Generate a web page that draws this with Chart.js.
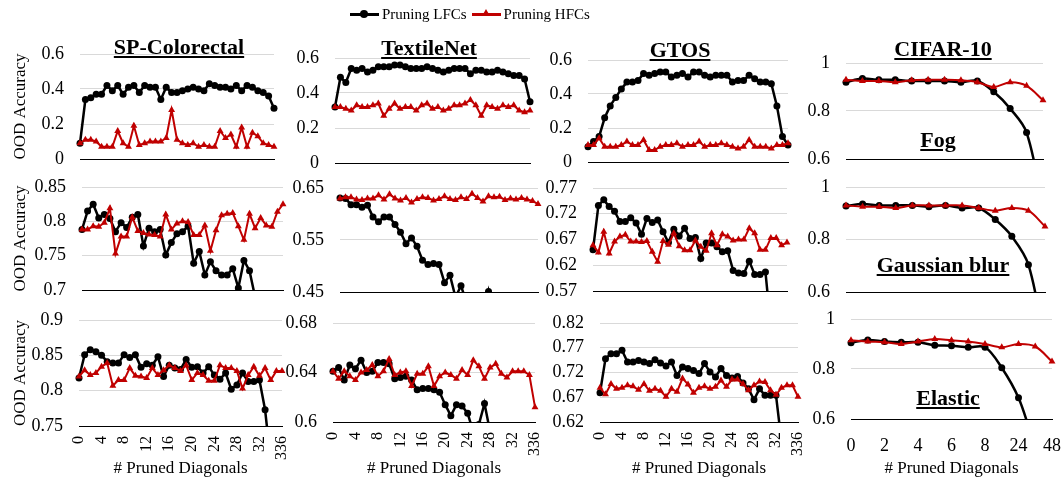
<!DOCTYPE html>
<html lang="en">
<head>
<meta charset="UTF-8" />
<title>OOD accuracy vs. pruned diagonals</title>
<script src="https://cdn.jsdelivr.net/npm/chart.js"></script>
<style>
  body { margin: 0; background: #fff; font-family: "Liberation Serif", "Times New Roman", serif; }
  #page { position: relative; width: 1063px; height: 478px; overflow: hidden; }
  #page canvas { position: absolute; }
  .title {
    position: absolute; font-weight: bold; font-size: 22px; line-height: 1;
    text-decoration: underline; transform: translate(-50%, -50%); white-space: nowrap; color: #000;
  }
  /* legend */
  .legend { position: absolute; top: 6px; left: 350px; display: flex; align-items: center; font-size: 15px; color: #000; }
  .legend .key { position: relative; display: inline-block; width: 29px; height: 2.5px; margin-right: 3px; }
  .legend .dot { position: absolute; left: 10px; top: -3px; width: 8px; height: 8px; border-radius: 50%; background: #000; }
  .legend .tri { position: absolute; left: 10px; top: -4px; width: 0; height: 0;
    border-left: 4px solid transparent; border-right: 4px solid transparent; border-bottom: 7px solid #c00000; }
  .legend .txt { margin-right: 5px; }
</style>
</head>
<body>
<div id="page">
  <div class="legend">
    <span class="key" style="background:#000"><span class="dot"></span></span><span class="txt">Pruning LFCs</span>
    <span class="key" style="background:#c00000"><span class="tri"></span></span><span class="txt">Pruning HFCs</span>
  </div>
  <div class="title" style="left:179px; top:47px">SP-Colorectal</div>
  <div class="title" style="left:429px; top:48px">TextileNet</div>
  <div class="title" style="left:680px; top:50px">GTOS</div>
  <div class="title" style="left:943px; top:49px">CIFAR-10</div>
  <div class="title" style="left:938px; top:140px">Fog</div>
  <div class="title" style="left:943px; top:265px">Gaussian blur</div>
  <div class="title" style="left:948px; top:398px">Elastic</div>
</div>
<script>
  // x categories
  const diagLabels = ["0", "1", "2", "3", "4", "5", "6", "7", "8", "9", "10", "11", "12", "13", "14", "15", "16", "17",
    "18", "19", "20", "21", "22", "23", "24", "25", "26", "27", "28", "29", "30", "31", "32", "33", "34", "35", "336"];
  const cifarLabels = ["0", "1", "2", "3", "4", "5", "6", "7", "8", "16", "24", "32", "48"];

  // y tick values
  const fogTicks = [0, 0.2, 0.4, 0.6];
  const cifarTicks = [0.6, 0.8, 1];
  const spBlurTicks = [0.7, 0.75, 0.8, 0.85];
  const textileBlurTicks = [0.45, 0.55, 0.65];
  const gtosBlurTicks = [0.57, 0.62, 0.67, 0.72, 0.77];
  const spElasticTicks = [0.75, 0.8, 0.85, 0.9];
  const textileElasticTicks = [0.6, 0.64, 0.68];
  const gtosElasticTicks = [0.62, 0.67, 0.72, 0.77, 0.82];

  // row 1
  const spFogLfc = [0.09, 0.34, 0.35, 0.37, 0.37, 0.42, 0.39, 0.42, 0.37, 0.41, 0.42, 0.38, 0.42, 0.41, 0.41, 0.34, 0.41, 0.38, 0.38,
    0.39, 0.40, 0.41, 0.40, 0.39, 0.43, 0.42, 0.41, 0.41, 0.40, 0.42, 0.39, 0.42, 0.41, 0.39, 0.38, 0.36, 0.29];
  const spFogHfc = [0.09, 0.11, 0.11, 0.10, 0.07, 0.07, 0.07, 0.16, 0.09, 0.07, 0.19, 0.08, 0.09, 0.10, 0.10, 0.10, 0.12, 0.28, 0.11,
    0.09, 0.08, 0.09, 0.07, 0.08, 0.07, 0.07, 0.16, 0.12, 0.14, 0.07, 0.18, 0.07, 0.15, 0.13, 0.09, 0.08, 0.07];
  const textileFogLfc = [0.32, 0.49, 0.46, 0.54, 0.53, 0.54, 0.52, 0.53, 0.55, 0.55, 0.55, 0.56, 0.56, 0.55, 0.54, 0.54, 0.54, 0.55, 0.54,
    0.53, 0.52, 0.53, 0.54, 0.54, 0.54, 0.51, 0.53, 0.53, 0.52, 0.52, 0.53, 0.52, 0.51, 0.50, 0.50, 0.48, 0.35];
  const textileFogHfc = [0.32, 0.32, 0.31, 0.30, 0.33, 0.32, 0.32, 0.33, 0.34, 0.27, 0.31, 0.34, 0.31, 0.32, 0.32, 0.30, 0.33, 0.34, 0.31,
    0.32, 0.30, 0.31, 0.33, 0.33, 0.34, 0.36, 0.33, 0.27, 0.33, 0.32, 0.31, 0.33, 0.32, 0.33, 0.30, 0.29, 0.30];
  const gtosFogLfc = [0.09, 0.12, 0.15, 0.26, 0.33, 0.38, 0.43, 0.47, 0.47, 0.48, 0.52, 0.51, 0.52, 0.53, 0.53, 0.50, 0.51, 0.52, 0.50,
    0.53, 0.53, 0.51, 0.50, 0.51, 0.51, 0.51, 0.47, 0.48, 0.48, 0.51, 0.49, 0.47, 0.47, 0.46, 0.33, 0.15, 0.10];
  const gtosFogHfc = [0.10, 0.10, 0.14, 0.09, 0.09, 0.09, 0.10, 0.12, 0.10, 0.10, 0.13, 0.07, 0.07, 0.09, 0.10, 0.10, 0.11, 0.09, 0.10,
    0.10, 0.12, 0.09, 0.10, 0.10, 0.11, 0.10, 0.09, 0.08, 0.09, 0.13, 0.09, 0.09, 0.09, 0.08, 0.10, 0.10, 0.11];
  const cifarFogLfc = [0.92, 0.935, 0.93, 0.93, 0.925, 0.925, 0.925, 0.92, 0.925, 0.88, 0.81, 0.71, 0.40];
  const cifarFogHfc = [0.93, 0.925, 0.925, 0.92, 0.928, 0.93, 0.93, 0.928, 0.92, 0.90, 0.92, 0.905, 0.845];

  // row 2
  const spBlurLfc = [0.788, 0.815, 0.825, 0.805, 0.81, 0.804, 0.785, 0.798, 0.791, 0.806, 0.81, 0.764, 0.79, 0.785, 0.788, 0.751, 0.769,
    0.782, 0.785, 0.793, 0.739, 0.756, 0.722, 0.741, 0.728, 0.722, 0.722, 0.731, 0.703, 0.743, 0.728, 0.69, 0.66, 0.62, 0.58, 0.55, 0.52];
  const spBlurHfc = [0.788, 0.788, 0.793, 0.792, 0.798, 0.819, 0.753, 0.778, 0.778, 0.806, 0.786, 0.783, 0.781, 0.78, 0.778, 0.81, 0.788,
    0.797, 0.8, 0.799, 0.78, 0.78, 0.794, 0.757, 0.787, 0.809, 0.811, 0.812, 0.793, 0.773, 0.811, 0.79, 0.805, 0.794, 0.792, 0.814, 0.825];
  const textileBlurLfc = [0.631, 0.63, 0.618, 0.618, 0.613, 0.617, 0.594, 0.585, 0.594, 0.594, 0.58, 0.565, 0.543, 0.554, 0.538, 0.511,
    0.503, 0.505, 0.503, 0.468, 0.482, 0.44, 0.462, 0.43, 0.42, 0.41, 0.40, 0.451, 0.40, 0.38, 0.36, 0.35, 0.34, 0.33, 0.32, 0.31, 0.30];
  const textileBlurHfc = [0.63, 0.632, 0.632, 0.628, 0.627, 0.63, 0.63, 0.636, 0.628, 0.638, 0.63, 0.626, 0.631, 0.622, 0.629, 0.632,
    0.631, 0.626, 0.629, 0.634, 0.629, 0.627, 0.632, 0.629, 0.639, 0.631, 0.624, 0.634, 0.632, 0.633, 0.627, 0.63, 0.628, 0.631, 0.628,
    0.625, 0.619];
  const gtosBlurLfc = [0.65, 0.736, 0.747, 0.734, 0.725, 0.705, 0.705, 0.712, 0.702, 0.68, 0.711, 0.703, 0.708, 0.685, 0.664, 0.69, 0.677,
    0.692, 0.672, 0.674, 0.633, 0.663, 0.663, 0.656, 0.646, 0.648, 0.61, 0.605, 0.604, 0.628, 0.602, 0.602, 0.607, 0.50, 0.45, 0.42, 0.40];
  const gtosBlurHfc = [0.659, 0.645, 0.685, 0.643, 0.666, 0.676, 0.679, 0.666, 0.666, 0.665, 0.667, 0.646, 0.627, 0.667, 0.66, 0.682,
    0.657, 0.649, 0.649, 0.668, 0.656, 0.648, 0.682, 0.659, 0.68, 0.676, 0.668, 0.67, 0.67, 0.692, 0.682, 0.65, 0.65, 0.673, 0.673, 0.659,
    0.664];
  const cifarBlurLfc = [0.928, 0.935, 0.93, 0.93, 0.93, 0.925, 0.93, 0.92, 0.92, 0.876, 0.812, 0.704, 0.40];
  const cifarBlurHfc = [0.93, 0.925, 0.925, 0.92, 0.93, 0.93, 0.93, 0.93, 0.92, 0.91, 0.92, 0.91, 0.85];

  // row 3
  const spElasticLfc = [0.818, 0.851, 0.858, 0.855, 0.85, 0.841, 0.839, 0.839, 0.851, 0.847, 0.851, 0.833, 0.838, 0.836, 0.848, 0.82,
    0.836, 0.832, 0.83, 0.844, 0.833, 0.834, 0.825, 0.834, 0.822, 0.816, 0.825, 0.802, 0.808, 0.825, 0.813, 0.813, 0.815, 0.773, 0.70,
    0.66, 0.62];
  const spElasticHfc = [0.82, 0.829, 0.822, 0.825, 0.834, 0.839, 0.807, 0.815, 0.815, 0.832, 0.821, 0.82, 0.818, 0.832, 0.822, 0.829,
    0.836, 0.832, 0.828, 0.836, 0.815, 0.825, 0.822, 0.814, 0.814, 0.836, 0.832, 0.832, 0.828, 0.803, 0.822, 0.834, 0.821, 0.832, 0.815,
    0.828, 0.828];
  const textileElasticLfc = [0.641, 0.644, 0.634, 0.646, 0.643, 0.65, 0.64, 0.641, 0.648, 0.648, 0.647, 0.635, 0.636, 0.637, 0.634, 0.626,
    0.627, 0.627, 0.626, 0.624, 0.614, 0.605, 0.614, 0.613, 0.607, 0.592, 0.598, 0.615, 0.592, 0.58, 0.57, 0.56, 0.55, 0.54, 0.53, 0.52,
    0.51];
  const textileElasticHfc = [0.641, 0.635, 0.641, 0.637, 0.634, 0.64, 0.642, 0.646, 0.637, 0.641, 0.651, 0.638, 0.64, 0.641, 0.629, 0.639,
    0.639, 0.645, 0.629, 0.637, 0.64, 0.638, 0.635, 0.642, 0.638, 0.65, 0.645, 0.635, 0.644, 0.647, 0.639, 0.636, 0.641, 0.641, 0.641,
    0.638, 0.612];
  const gtosElasticLfc = [0.679, 0.748, 0.758, 0.758, 0.765, 0.741, 0.741, 0.744, 0.741, 0.738, 0.746, 0.739, 0.733, 0.741, 0.714, 0.731,
    0.728, 0.724, 0.718, 0.738, 0.721, 0.711, 0.728, 0.714, 0.709, 0.712, 0.699, 0.687, 0.665, 0.687, 0.674, 0.674, 0.674, 0.58, 0.55,
    0.52, 0.50];
  const gtosElasticHfc = [0.689, 0.676, 0.697, 0.687, 0.689, 0.694, 0.692, 0.685, 0.697, 0.683, 0.687, 0.683, 0.671, 0.687, 0.681, 0.708,
    0.696, 0.679, 0.689, 0.692, 0.687, 0.691, 0.704, 0.691, 0.706, 0.706, 0.697, 0.684, 0.694, 0.702, 0.701, 0.684, 0.675, 0.689, 0.694,
    0.694, 0.671];
  const cifarElasticLfc = [0.905, 0.916, 0.91, 0.907, 0.907, 0.895, 0.893, 0.887, 0.887, 0.805, 0.685, 0.50, 0.40];
  const cifarElasticHfc = [0.915, 0.91, 0.907, 0.90, 0.91, 0.92, 0.915, 0.91, 0.90, 0.887, 0.90, 0.89, 0.83];

  const FONT = "'Liberation Serif', 'Times New Roman', serif";
  Chart.defaults.font.family = FONT;

  // box = plot area [left, right, top, bottom] on the page
  const panels = [
    { box: [80, 274, 54, 159], labels: diagLabels, lfc: spFogLfc, hfc: spFogHfc, ticks: fogTicks, yTitle: true },
    { box: [335, 530, 58, 163], labels: diagLabels, lfc: textileFogLfc, hfc: textileFogHfc, ticks: fogTicks },
    { box: [588, 788, 60, 162], labels: diagLabels, lfc: gtosFogLfc, hfc: gtosFogHfc, ticks: fogTicks },
    { box: [846, 1043, 63, 159], labels: cifarLabels, lfc: cifarFogLfc, hfc: cifarFogHfc, ticks: cifarTicks, cifar: true },

    { box: [82, 283, 187, 290], labels: diagLabels, lfc: spBlurLfc, hfc: spBlurHfc, ticks: spBlurTicks, yTitle: true },
    { box: [340, 538, 188, 292], labels: diagLabels, lfc: textileBlurLfc, hfc: textileBlurHfc, ticks: textileBlurTicks },
    { box: [593, 787, 188, 291], labels: diagLabels, lfc: gtosBlurLfc, hfc: gtosBlurHfc, ticks: gtosBlurTicks },
    { box: [846, 1045, 187, 292], labels: cifarLabels, lfc: cifarBlurLfc, hfc: cifarBlurHfc, ticks: cifarTicks, cifar: true },

    { box: [79, 282, 320, 426], labels: diagLabels, lfc: spElasticLfc, hfc: spElasticHfc, ticks: spElasticTicks, yTitle: true, xAxis: true },
    { box: [333, 535, 323, 422], labels: diagLabels, lfc: textileElasticLfc, hfc: textileElasticHfc, ticks: textileElasticTicks, xAxis: true },
    { box: [600, 798, 323, 422], labels: diagLabels, lfc: gtosElasticLfc, hfc: gtosElasticHfc, ticks: gtosElasticTicks, xAxis: true },
    { box: [851, 1052, 319, 419], labels: cifarLabels, lfc: cifarElasticLfc, hfc: cifarElasticHfc, ticks: cifarTicks, cifar: true, xAxis: true },
  ];

  const page = document.getElementById("page");
  const clipBox = { left: 8, right: 8, top: 8, bottom: 0 };

  function makePanel(p) {
    const [L, R, T, B] = p.box;
    const padLeft = p.yTitle ? 6 : 0;
    const yW = p.yTitle ? L - 6 : 54;
    const left = L - yW - padLeft;
    // y tick labels ask for half a label + tick padding above/below the plot
    const padTop = 28, padRight = 30;
    const xH = p.xAxis ? 479 - B : 0;
    const padBottom = p.xAxis ? 0 : 28;
    const w = R - left + padRight;
    const h = padTop + (B - T) + xH + padBottom;

    const canvas = document.createElement("canvas");
    canvas.width = w;
    canvas.height = h;
    canvas.style.left = left + "px";
    canvas.style.top = T - padTop + "px";
    canvas.style.width = w + "px";
    canvas.style.height = h + "px";
    page.insertBefore(canvas, page.firstChild);

    const every = p.cifar ? 2 : 4;
    const rot = p.cifar ? 0 : 90;

    return new Chart(canvas, {
      type: "line",
      data: {
        labels: p.labels,
        datasets: [
          {
            label: "Pruning LFCs",
            data: p.lfc,
            borderColor: "#000",
            backgroundColor: "#000",
            borderWidth: 2.5,
            pointStyle: "circle",
            pointRadius: 3.5,
            pointBorderWidth: 0,
            tension: p.cifar ? 0.35 : 0,
            clip: clipBox,
            order: 2,
          },
          {
            label: "Pruning HFCs",
            data: p.hfc,
            borderColor: "#c00000",
            backgroundColor: "#c00000",
            borderWidth: 2,
            pointStyle: "triangle",
            pointRadius: 4,
            pointBorderWidth: 0,
            tension: p.cifar ? 0.35 : 0,
            clip: clipBox,
            order: 1,
          },
        ],
      },
      options: {
        responsive: false,
        animation: false,
        layout: { padding: { left: padLeft, right: padRight, top: padTop, bottom: padBottom } },
        plugins: { legend: { display: false }, tooltip: { enabled: false } },
        scales: {
          x: {
            offset: false,
            grid: { display: false },
            border: { display: true, color: "#000", width: 1 },
            ticks: {
              display: !!p.xAxis,
              autoSkip: false,
              minRotation: rot,
              maxRotation: rot,
              padding: p.cifar ? 8 : 2,
              color: "#000",
              font: { family: FONT, size: p.cifar ? 18 : 16 },
              callback: (v, i) => (i % every === 0 ? p.labels[i] : ""),
            },
            title: {
              display: !!p.xAxis,
              text: "# Pruned Diagonals",
              color: "#000",
              font: { family: FONT, size: 17 },
              padding: 0,
            },
            afterFit: (s) => { s.height = xH; },
          },
          y: {
            min: p.ticks[0],
            max: p.ticks[p.ticks.length - 1],
            afterBuildTicks: (s) => { s.ticks = p.ticks.map((v) => ({ value: v })); },
            grid: {
              color: (c) => (c.index === 0 ? "rgba(0,0,0,0)" : "#d9d9d9"),
              drawTicks: false,
            },
            border: { display: false },
            ticks: {
              padding: 16,
              color: "#000",
              font: { family: FONT, size: 18 },
              callback: (v) => String(+Number(v).toFixed(2)),
            },
            title: {
              display: !!p.yTitle,
              text: "OOD Accuracy",
              color: "#000",
              font: { family: FONT, size: 17 },
              padding: { top: 4, bottom: 0 },
            },
            afterFit: (s) => { s.width = yW; },
          },
        },
      },
    });
  }

  const charts = panels.map(makePanel);
  if (document.fonts && document.fonts.ready) {
    document.fonts.ready.then(() => charts.forEach((c) => c.update()));
  }
</script>
</body>
</html>
